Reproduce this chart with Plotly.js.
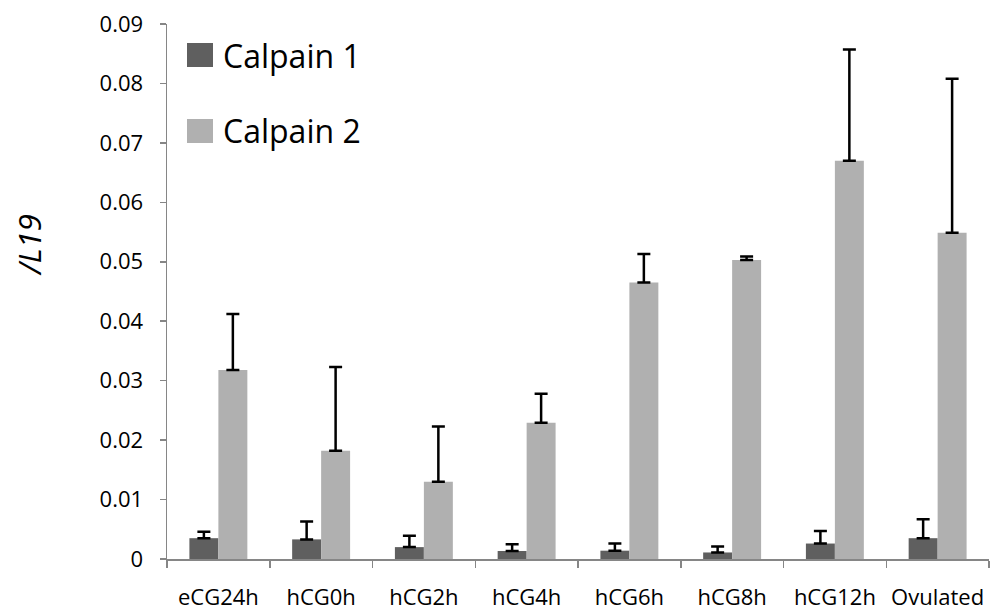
<!DOCTYPE html>
<html>
<head>
<meta charset="utf-8">
<script src="https://cdn.plot.ly/plotly-3.0.1.min.js"></script>
<style>html,body{margin:0;padding:0;background:#fff;}#chart{width:990px;height:612px;}</style>
</head>
<body>
<div id="chart"></div>
<script>
const categories = ["eCG24h", "hCG0h", "hCG2h", "hCG4h", "hCG6h", "hCG8h", "hCG12h", "Ovulated"];
const calpain1 = [0.0035, 0.0033, 0.0020, 0.00135, 0.0014, 0.0011, 0.0026, 0.0035];
const calpain1Err = [0.0011, 0.0030, 0.0019, 0.00115, 0.0012, 0.0010, 0.0021, 0.0032];
const calpain2 = [0.0318, 0.0182, 0.0130, 0.0229, 0.0465, 0.0503, 0.0670, 0.0549];
const calpain2Err = [0.0094, 0.0141, 0.0093, 0.0049, 0.0048, 0.0006, 0.0187, 0.0259];
const zeros = categories.map(() => 0);
const yTicks = [0, 0.01, 0.02, 0.03, 0.04, 0.05, 0.06, 0.07, 0.08, 0.09];
const yTickText = ["0", "0.01", "0.02", "0.03", "0.04", "0.05", "0.06", "0.07", "0.08", "0.09"];
const seriesNames = ["Calpain 1", "Calpain 2"];
const seriesColors = ['#5f5f5f', '#b0b0b0'];
const yTitle = '/L19';

const errStyle = (arr) => ({type: 'data', symmetric: false, array: arr, arrayminus: zeros,
  color: '#000', thickness: 2.5, width: 6.5, visible: true});

const traces = [
  {type: 'bar', name: seriesNames[0], x: categories, y: calpain1,
   marker: {color: seriesColors[0]}, error_y: errStyle(calpain1Err)},
  {type: 'bar', name: seriesNames[1], x: categories, y: calpain2,
   marker: {color: seriesColors[1]}, error_y: errStyle(calpain2Err)}
];

const font = "Open Sans, Noto Sans, sans-serif";

// Legend drawn manually (large swatches as in the reference)
const legendRows = [{y: 55}, {y: 131}];
const shapes = [];
const annotations = [];
legendRows.forEach((r, i) => {
  shapes.push({type: 'rect', xref: 'paper', yref: 'paper',
    x0: (187 - 167) / 822, x1: (213 - 167) / 822,
    y0: (559 - (r.y + 12)) / 535, y1: (559 - (r.y - 12)) / 535,
    fillcolor: seriesColors[i], line: {width: 0}});
  annotations.push({xref: 'paper', yref: 'paper', x: (221 - 167) / 822, y: (559 - r.y) / 535,
    xanchor: 'left', yanchor: 'middle', showarrow: false, text: seriesNames[i],
    font: {family: font, size: 32, color: '#000'}});
});
annotations.push({xref: 'paper', yref: 'paper', x: (29 - 167) / 822, y: (559 - 245) / 535,
  xanchor: 'center', yanchor: 'middle', showarrow: false, textangle: -90,
  text: '<i>' + yTitle + '</i>', font: {family: font, size: 31, color: '#000'}});

const layout = {
  width: 990, height: 612,
  margin: {l: 167, r: 1, t: 24, b: 53, pad: 0},
  paper_bgcolor: '#fff', plot_bgcolor: '#fff',
  barmode: 'group', bargap: 0.436, bargroupgap: 0,
  showlegend: false,
  font: {family: font, color: '#000'},
  shapes: shapes,
  annotations: annotations,
  xaxis: {type: 'category', showline: true, linecolor: '#868686', linewidth: 1.5,
    ticks: 'outside', tickson: 'boundaries', ticklen: 7, tickcolor: '#868686', tickwidth: 1.5,
    showgrid: false, zeroline: false, tickfont: {family: font, size: 22, color: '#000'},
    ticklabelstandoff: 18},
  yaxis: {range: [0, 0.09], tickvals: yTicks, ticktext: yTickText, showline: true,
    linecolor: '#868686', linewidth: 1.5, ticks: 'outside', ticklen: 6, tickcolor: '#868686',
    tickwidth: 1.5, showgrid: false, zeroline: false,
    tickfont: {family: font, size: 22, color: '#000'}, ticklabelstandoff: 12}
};

Plotly.newPlot('chart', traces, layout, {displayModeBar: false, staticPlot: true});
</script>
</body>
</html>
